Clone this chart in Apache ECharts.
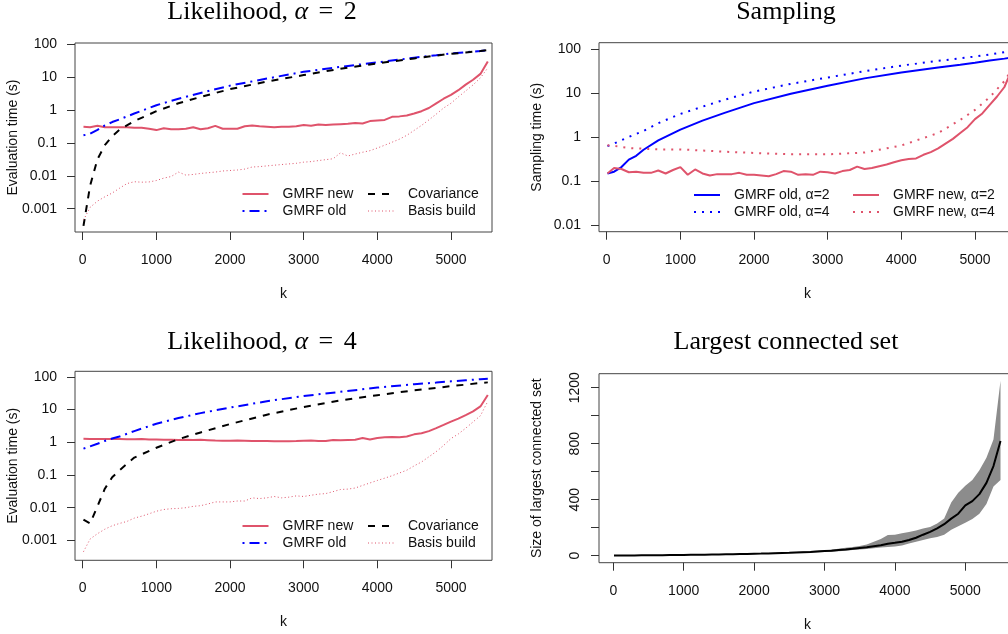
<!DOCTYPE html>
<html>
<head>
<meta charset="utf-8">
<script src="https://cdn.jsdelivr.net/npm/echarts@6/dist/echarts.min.js"></script>
<style>
  html, body { margin: 0; padding: 0; background: #fff; overflow: hidden; }
  /* the right-hand panels run past the page edge, as in the original figure */
  #wrap { width: 1008px; height: 634px; overflow: hidden; }
  #chart { width: 1024px; height: 634px; }
</style>
</head>
<body>
<div id="wrap"><div id="chart"></div></div>
<script>
// k values: fine grid for the wiggly curves, coarse grid for the smooth ones
const kFine = [10, 100, 200, 300, 400, 500, 600, 700, 800, 900,
  1000, 1100, 1200, 1300, 1400, 1500, 1600, 1700, 1800, 1900,
  2000, 2100, 2200, 2300, 2400, 2500, 2600, 2700, 2800, 2900,
  3000, 3100, 3200, 3300, 3400, 3500, 3600, 3700, 3800, 3900,
  4000, 4100, 4200, 4300, 4400, 4500, 4600, 4700, 4800, 4900,
  5000, 5100, 5200, 5300, 5400, 5500];
const kCoarse = [10, 100, 200, 300, 400, 500, 700, 1000, 1300, 1600, 2000,
  2500, 3000, 3500, 4000, 4500, 4800, 5000, 5200, 5400, 5500];

// tick labels
const kTicks = [0, 1000, 2000, 3000, 4000, 5000];
const logTicks = [0.001, 0.01, 0.1, 1, 10, 100];
const sizeTicks = [0, 200, 400, 600, 800, 1000, 1200];
const sizeLabels = [0, 400, 800, 1200];

// Likelihood, alpha = 2
const likNewA2 = [0.31, 0.30, 0.33, 0.30, 0.30, 0.30, 0.30, 0.29, 0.29, 0.27,
  0.245, 0.28, 0.26, 0.26, 0.27, 0.30, 0.26, 0.28, 0.33, 0.27,
  0.27, 0.27, 0.32, 0.34, 0.32, 0.31, 0.30, 0.31, 0.31, 0.32,
  0.35, 0.33, 0.36, 0.35, 0.36, 0.37, 0.38, 0.40, 0.39, 0.46,
  0.48, 0.50, 0.62, 0.64, 0.68, 0.78, 0.92, 1.15, 1.6, 2.2,
  2.9, 4.0, 5.9, 8.3, 12.5, 30];
const likBasisA2 = [0.00045, 0.0011, 0.0017, 0.0023, 0.003, 0.0042, 0.0058, 0.0066, 0.0064, 0.0065,
  0.0072, 0.0085, 0.0095, 0.013, 0.0105, 0.011, 0.0118, 0.0124, 0.013, 0.014,
  0.0145, 0.015, 0.016, 0.0185, 0.019, 0.02, 0.021, 0.022, 0.023, 0.024,
  0.026, 0.027, 0.029, 0.031, 0.033, 0.05, 0.04, 0.046, 0.052, 0.058,
  0.07, 0.085, 0.105, 0.13, 0.17, 0.24, 0.34, 0.5, 0.75, 1.15,
  1.6, 2.5, 3.8, 5.8, 9.5, 19];
const likOldA2 = [0.17, 0.19, 0.25, 0.34, 0.43, 0.52, 0.78, 1.4, 2.2, 3.3, 5.5,
  9, 14.5, 20.5, 28, 39, 46, 52, 57, 62, 66];
const likCovA2 = [0.0003, 0.005, 0.032, 0.085, 0.16, 0.25, 0.46, 0.92, 1.6, 2.5, 4.3,
  7.3, 11.5, 18, 26, 37, 45, 51, 56, 62, 66];

// Sampling
const sampNewA2 = [0.15, 0.20, 0.19, 0.16, 0.165, 0.155, 0.155, 0.175, 0.15, 0.18,
  0.21, 0.14, 0.185, 0.15, 0.135, 0.145, 0.145, 0.145, 0.155, 0.14,
  0.14, 0.135, 0.13, 0.145, 0.17, 0.165, 0.14, 0.145, 0.14, 0.165,
  0.16, 0.15, 0.17, 0.18, 0.215, 0.19, 0.20, 0.22, 0.24, 0.27,
  0.30, 0.32, 0.33, 0.40, 0.46, 0.56, 0.72, 0.92, 1.25, 1.7,
  2.6, 3.5, 5.5, 8.5, 14, 35];
const sampOldA2 = [0.15, 0.165, 0.21, 0.31, 0.38, 0.52, 0.85, 1.5, 2.4, 3.6, 6,
  9.8, 15, 22, 30, 39, 45, 50, 56, 62, 66];
const sampOldA4 = [0.63, 0.72, 0.86, 1.02, 1.2, 1.4, 2.1, 3.4, 5.0, 7.2, 11,
  16.5, 23, 32, 43, 55, 63, 69, 77, 87, 92];
const sampNewA4 = [0.66, 0.64, 0.6, 0.57, 0.56, 0.55, 0.53, 0.53, 0.5, 0.47, 0.44,
  0.41, 0.41, 0.45, 0.65, 1.25, 2.5, 4.2, 8.2, 19, 35];

// Likelihood, alpha = 4
const likNewA4 = [1.28, 1.27, 1.27, 1.26, 1.25, 1.25, 1.24, 1.23, 1.25, 1.22,
  1.22, 1.2, 1.2, 1.18, 1.2, 1.17, 1.19, 1.16, 1.13, 1.12,
  1.12, 1.13, 1.12, 1.1, 1.1, 1.09, 1.07, 1.08, 1.08, 1.09,
  1.12, 1.13, 1.1, 1.09, 1.18, 1.15, 1.18, 1.2, 1.35, 1.22,
  1.35, 1.42, 1.45, 1.42, 1.5, 1.75, 1.9, 2.2, 2.7, 3.4,
  4.3, 5.3, 6.8, 8.8, 12.5, 28];
const likBasisA4 = [0.00045, 0.0011, 0.0016, 0.0022, 0.0028, 0.0033, 0.0038, 0.0048, 0.0055, 0.0065,
  0.0078, 0.0088, 0.0093, 0.0095, 0.01, 0.011, 0.0115, 0.013, 0.015, 0.015,
  0.015, 0.016, 0.016, 0.02, 0.019, 0.02, 0.022, 0.02, 0.021, 0.023,
  0.022, 0.024, 0.026, 0.027, 0.031, 0.036, 0.037, 0.04, 0.048, 0.057,
  0.068, 0.08, 0.095, 0.115, 0.14, 0.19, 0.25, 0.36, 0.52, 0.8,
  1.3, 1.8, 2.7, 4.2, 6.5, 18];
const likOldA4 = [0.64, 0.75, 0.9, 1.1, 1.3, 1.5, 2.2, 3.7, 5.5, 7.8, 11.5,
  18, 26, 35, 47, 60, 67, 73, 79, 85, 88];
const likCovA4 = [0.0043, 0.0033, 0.011, 0.038, 0.085, 0.14, 0.34, 0.68, 1.25, 2.0, 3.6,
  7.0, 12, 19, 27.5, 39, 46, 52, 58, 65, 68];

// Largest connected set: mean and band
const lcsMean = [1, 1, 1.5, 2, 2.5, 3, 3.5, 4, 4.5, 5,
  5.5, 6, 6.5, 7, 8, 8.5, 9.5, 10.5, 11.5, 12.5,
  14, 15, 16.5, 18, 19.5, 21, 23, 25, 27, 30,
  33, 36, 40, 44, 49, 55, 61, 68, 75, 85,
  92, 100, 112, 128, 150, 170, 195, 225, 265, 300,
  360, 390, 440, 520, 640, 820];
const lcsUpper = [2, 2, 3, 3, 4, 4, 5, 5, 6, 6,
  7, 8, 8, 9, 10, 11, 12, 13, 14, 15,
  17, 18, 20, 22, 24, 26, 28, 31, 34, 37,
  41, 45, 50, 56, 62, 70, 80, 100, 120, 148,
  150, 160, 170, 180, 195, 205, 230, 265, 380, 450,
  500, 540, 610, 700, 830, 1250];
const lcsLower = [0, 0, 1, 1, 1, 2, 2, 3, 3, 4,
  4, 5, 5, 6, 6, 7, 8, 8, 9, 10,
  11, 12, 13, 14, 16, 17, 19, 20, 22, 24,
  27, 29, 32, 36, 40, 44, 48, 53, 58, 62,
  66, 72, 88, 100, 112, 125, 133, 150, 185, 210,
  235, 262, 300, 370, 495, 540];

const SANS = "'Liberation Sans', Arial, Helvetica, sans-serif";
const SERIF = "'Liberation Serif', 'Times New Roman', serif";
const RED = '#DF536B';
const BLUE = '#0000FF';
const BLACK = '#000000';
const BAND = '#8C8C8C';
const TXT = '#111';

const chart = echarts.init(document.getElementById('chart'));

const pts = (ks, vs) => ks.map((k, i) => [k, vs[i]]);

function line(name, idx, ks, vs, color, width, dash, z) {
  return {
    name: name,
    type: 'line',
    xAxisIndex: idx,
    yAxisIndex: idx,
    data: pts(ks, vs),
    symbol: 'none',
    silent: true,
    z: z || 2,
    lineStyle: { color: color, width: width, type: dash || 'solid', cap: 'butt' },
    itemStyle: { color: color },
  };
}

const axisText = { fontFamily: SANS, fontSize: 14, color: TXT };

function xAxis(idx, min, max) {
  return {
    type: 'value', gridIndex: idx, min: min, max: max,
    name: 'k', nameLocation: 'middle', nameGap: 55, nameMoveOverlap: false,
    nameTextStyle: axisText,
    axisLine: { show: false, onZero: false },
    axisTick: { show: true, length: 8, customValues: kTicks, lineStyle: { color: '#333' } },
    axisLabel: Object.assign({ customValues: kTicks, margin: 21, formatter: v => String(v) }, axisText),
    splitLine: { show: false },
  };
}

function logAxis(idx, name, min, max) {
  return {
    type: 'log', logBase: 10, gridIndex: idx, min: min, max: max,
    name: name, nameLocation: 'middle', nameGap: 54.5, nameMoveOverlap: false,
    nameTextStyle: axisText,
    axisLine: { show: false, onZero: false },
    axisTick: { show: true, length: 8, customValues: logTicks, lineStyle: { color: '#333' } },
    axisLabel: Object.assign({ customValues: logTicks, margin: 18, formatter: v => String(v) }, axisText),
    splitLine: { show: false },
  };
}

function legend(left, top, names) {
  return {
    orient: 'vertical', left: left, top: top, padding: 0,
    itemWidth: 26, itemHeight: 14, itemGap: 3,
    selectedMode: false,
    data: names,
    itemStyle: { opacity: 0 },
    lineStyle: { width: 'inherit' },
    textStyle: { fontFamily: SANS, fontSize: 14, color: TXT, lineHeight: 14, padding: [0, 0, 0, 9] },
  };
}

function title(text, left, top) {
  return {
    text: text, left: left, top: top, textAlign: 'center', padding: 0,
    textStyle: {
      fontFamily: SERIF, fontSize: 26, fontWeight: 'normal', color: BLACK,
      rich: {
        i: { fontFamily: SERIF, fontSize: 26, fontStyle: 'italic', color: BLACK },
        e: { fontFamily: SERIF, fontSize: 26, color: BLACK, padding: [0, 4] },
      },
    },
  };
}

const boxStyle = { show: true, borderColor: '#444', borderWidth: 1, backgroundColor: 'transparent' };

chart.setOption({
  animation: false,
  backgroundColor: '#fff',
  title: [
    title('Likelihood, {i|α} {e|=} 2', 262, -1),
    title('Sampling', 786, -1),
    title('Likelihood, {i|α} {e|=} 4', 262, 329.5),
    title('Largest connected set', 786, 329.5),
  ],
  grid: [
    Object.assign({ left: 75, top: 43, width: 417, height: 189 }, boxStyle),
    Object.assign({ left: 599, top: 42.7, width: 417, height: 189 }, boxStyle),
    Object.assign({ left: 75, top: 371.3, width: 417, height: 189 }, boxStyle),
    Object.assign({ left: 599, top: 373.7, width: 417, height: 189 }, boxStyle),
  ],
  xAxis: [
    xAxis(0, -105, 5557),
    xAxis(1, -105, 5557),
    xAxis(2, -105, 5557),
    xAxis(3, -203, 5720),
  ],
  yAxis: [
    logAxis(0, 'Evaluation time (s)', 0.000196, 108.7),
    logAxis(1, 'Sampling time (s)', 0.00708, 142.9),
    logAxis(2, 'Evaluation time (s)', 0.000246, 148.3),
    {
      type: 'value', gridIndex: 3, min: -50, max: 1300,
      name: 'Size of largest connected set', nameLocation: 'middle', nameGap: 54.5, nameMoveOverlap: false,
      nameTextStyle: axisText,
      axisLine: { show: false, onZero: false },
      axisTick: { show: true, length: 8, customValues: sizeTicks, lineStyle: { color: '#333' } },
      axisLabel: Object.assign({ customValues: sizeLabels, margin: 17, rotate: 90, formatter: v => String(v) }, axisText),
      splitLine: { show: false },
    },
  ],
  legend: [
    legend(241.5, 187, ['GMRF new', 'GMRF old']),
    legend(367, 187, ['Covariance', 'Basis build']),
    legend(693, 188, ['GMRF old, α=2', 'GMRF old, α=4']),
    legend(852, 188, ['GMRF new, α=2', 'GMRF new, α=4']),
    legend(241.5, 519, ['GMRF new', 'GMRF old']),
    legend(367, 519, ['Covariance', 'Basis build']),
  ],
  series: [
    line('GMRF new', 0, kFine, likNewA2, RED, 2),
    line('GMRF old', 0, kCoarse, likOldA2, BLUE, 2, [2, 5, 10, 5]),
    line('Covariance', 0, kCoarse, likCovA2, BLACK, 2, [7, 7]),
    line('Basis build', 0, kFine, likBasisA2, RED, 1, [1, 2.5]),

    line('GMRF old, α=2', 1, kCoarse, sampOldA2, BLUE, 2),
    line('GMRF old, α=4', 1, kCoarse, sampOldA4, BLUE, 2, [2, 6]),
    line('GMRF new, α=2', 1, kFine, sampNewA2, RED, 2),
    line('GMRF new, α=4', 1, kCoarse, sampNewA4, RED, 2, [2, 6]),

    line('GMRF new', 2, kFine, likNewA4, RED, 2),
    line('GMRF old', 2, kCoarse, likOldA4, BLUE, 2, [2, 5, 10, 5]),
    line('Covariance', 2, kCoarse, likCovA4, BLACK, 2, [7, 7]),
    line('Basis build', 2, kFine, likBasisA4, RED, 1, [1, 2.5]),

    {
      // gray band between lower and upper, drawn as one polygon
      name: 'band', type: 'custom', xAxisIndex: 3, yAxisIndex: 3, silent: true, z: 1,
      data: kFine.map((k, i) => [k, lcsLower[i], lcsUpper[i]]),
      encode: { x: 0, y: [1, 2] },
      renderItem: (params, api) => {
        if (params.dataIndex !== 0) return null;
        const top = kFine.map((k, i) => api.coord([k, lcsUpper[i]]));
        const bottom = kFine.map((k, i) => api.coord([k, lcsLower[i]])).reverse();
        return { type: 'polygon', shape: { points: top.concat(bottom) }, style: { fill: BAND } };
      },
    },
    line('mean', 3, kFine, lcsMean, BLACK, 2, 'solid', 3),
  ],
});
</script>
</body>
</html>
